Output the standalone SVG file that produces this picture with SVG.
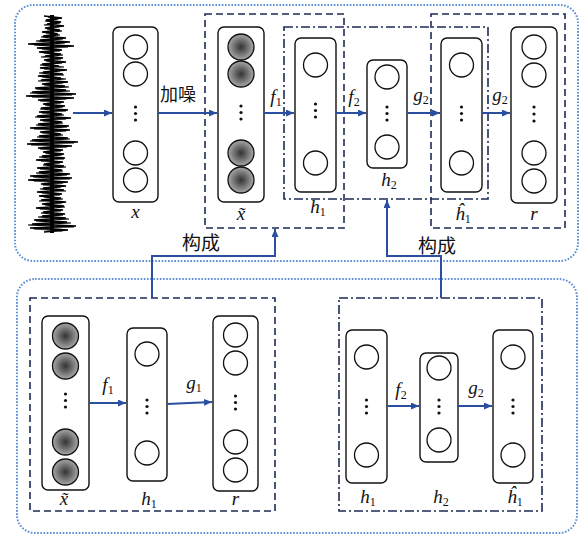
<svg xmlns="http://www.w3.org/2000/svg" width="581" height="536" viewBox="0 0 581 536">
<defs>
<radialGradient id="gshade" cx="50%" cy="50%" r="50%">
<stop offset="0%" stop-color="#333"/>
<stop offset="100%" stop-color="#a8a8a8"/>
</radialGradient>
<marker id="ah" markerUnits="userSpaceOnUse" markerWidth="9" markerHeight="7" refX="8" refY="3.5" orient="auto">
<path d="M0,0 L8,3.5 L0,7 z" fill="#2a4ea0"/>
</marker>
</defs>
<style>
.panel{fill:none;stroke:#5b8fd6;stroke-width:2;stroke-dasharray:1.6 1.6}
.dash{fill:none;stroke:#1d2b57;stroke-width:1.6;stroke-dasharray:7 4}
.dd{fill:none;stroke:#1d2b57;stroke-width:1.6;stroke-dasharray:9 3 2 3}
.box{fill:#fff;stroke:#111;stroke-width:1.4}
.c{fill:#fff;stroke:#111;stroke-width:1.3}
.g{fill:url(#gshade);stroke:#111;stroke-width:1.3}
.dot{fill:#111}
.arr{fill:none;stroke:#2a4ea0;stroke-width:2;marker-end:url(#ah)}
.lab{font-family:"Liberation Serif","DejaVu Serif",serif;font-style:italic;font-size:19px;fill:#111;text-anchor:middle}
.sub{font-style:normal;font-size:12px}
.cn{font-family:"Noto Sans CJK SC",sans-serif;font-size:18px;fill:#111}
</style>
<rect class="panel" x="15" y="5" width="563" height="256" rx="18"/>
<rect class="panel" x="17" y="279" width="560" height="254" rx="18"/>
<g id="waveform" fill="none" stroke="#000">
<line x1="52" y1="15" x2="52" y2="233" stroke-width="4"/>
<polyline stroke-width="1.6" points="44,16 62,18 46,20 61,22 47,24 64,26 45,28 60,30 42,32 58,34 43,36 66,38 40,40 70,42 28,44 74,46 37,48 62,50 39,52 61,54 45,56 63,58 44,60 66,62 42,64 59,66 40,68 67,70 43,72 63,74 38,76 61,78 41,80 68,82 42,84 65,86 35,88 66,90 32,92 76,94 26,96 74,98 38,100 64,102 43,104 65,106 41,108 68,110 39,112 62,114 37,116 71,118 40,120 62,122 38,124 69,126 30,128 70,130 40,132 61,134 39,136 68,138 32,140 78,142 27,144 72,146 38,148 63,150 43,152 64,154 42,156 65,158 36,160 63,162 44,164 64,166 37,168 62,170 39,172 70,174 30,176 72,178 28,180 68,182 41,184 66,186 43,188 64,190 37,192 62,194 39,196 61,198 41,200 66,202 42,204 64,206 36,208 63,210 43,212 65,214 42,216 66,218 34,220 67,222 32,224 76,226 30,228 68,230 44,232"/>
<polyline stroke-width="1.2" points="48,17 58,19 45,21 60,23 44,25 59,27 47,29 62,31 46,33 60,35 41,37 63,39 36,41 65,43 34,45 68,47 42,49 60,51 44,53 63,55 41,57 61,59 46,61 62,63 40,65 64,67 44,69 60,71 39,73 64,75 42,77 66,79 38,81 63,83 44,85 69,87 36,89 70,91 30,93 72,95 32,97 66,99 40,101 61,103 45,105 63,107 40,109 66,111 42,113 64,115 35,117 66,119 43,121 63,123 36,125 67,127 34,129 66,131 42,133 63,135 37,137 70,139 30,141 74,143 31,145 67,147 40,149 61,151 45,153 62,155 39,157 64,159 41,161 60,163 43,165 66,167 40,169 63,171 36,173 67,175 33,177 70,179 34,181 63,183 43,185 61,187 40,189 66,191 42,193 60,195 44,197 63,199 39,201 62,203 45,205 65,207 40,209 61,211 41,213 63,215 38,217 69,219 36,221 71,223 28,225 74,227 34,229 62,231"/>
</g>
<g id="group-x1h1"><rect class="dash" x="205" y="14" width="139" height="214"/></g>
<g id="group-h1h2"><rect class="dd" x="284" y="27" width="204" height="172"/></g>
<g id="group-h1r"><rect class="dash" x="431" y="14" width="134" height="214"/></g>
<g id="group-dae1"><rect class="dash" x="30" y="298" width="245" height="213"/></g>
<g id="group-dae2"><rect class="dd" x="339" y="298" width="203" height="213"/></g>

<g id="node-x">
<rect class="box" x="113" y="27" width="45" height="175" rx="6"/>
<circle class="c" cx="135.5" cy="47" r="12"/><circle class="c" cx="135.5" cy="74" r="12"/>
<circle class="c" cx="135.5" cy="153" r="12"/><circle class="c" cx="135.5" cy="180" r="12"/>
<circle class="dot" cx="135.5" cy="107" r="1.6"/><circle class="dot" cx="135.5" cy="113.5" r="1.6"/><circle class="dot" cx="135.5" cy="120" r="1.6"/>
<text class="lab" x="135.5" y="218">x</text>
</g>
<g id="node-xt">
<rect class="box" x="218" y="27" width="46" height="175" rx="6"/>
<circle class="g" cx="241" cy="47" r="13"/><circle class="g" cx="241" cy="74" r="13"/>
<circle class="g" cx="241" cy="153" r="13"/><circle class="g" cx="241" cy="180" r="13"/>
<circle class="dot" cx="241" cy="106" r="1.6"/><circle class="dot" cx="241" cy="112.5" r="1.6"/><circle class="dot" cx="241" cy="119" r="1.6"/>
<text class="lab" x="241" y="220">x̃</text>
</g>
<g id="node-h1">
<rect class="box" x="295" y="38" width="41" height="154" rx="6"/>
<circle class="c" cx="315.5" cy="65" r="12"/><circle class="c" cx="315.5" cy="163" r="12"/>
<circle class="dot" cx="315.5" cy="104" r="1.6"/><circle class="dot" cx="315.5" cy="110.5" r="1.6"/><circle class="dot" cx="315.5" cy="117" r="1.6"/>
<text class="lab" x="318" y="213">h<tspan class="sub" dy="3">1</tspan></text>
</g>
<g id="node-h2">
<rect class="box" x="367" y="60" width="40" height="108" rx="6"/>
<circle class="c" cx="387" cy="77" r="12"/><circle class="c" cx="387" cy="147" r="12"/>
<circle class="dot" cx="387" cy="107" r="1.6"/><circle class="dot" cx="387" cy="113.5" r="1.6"/><circle class="dot" cx="387" cy="120" r="1.6"/>
<text class="lab" x="389" y="186">h<tspan class="sub" dy="3">2</tspan></text>
</g>
<g id="node-h1hat">
<rect class="box" x="441" y="38" width="41" height="154" rx="6"/>
<circle class="c" cx="461.5" cy="65" r="12"/><circle class="c" cx="461.5" cy="163" r="12"/>
<circle class="dot" cx="461.5" cy="107" r="1.6"/><circle class="dot" cx="461.5" cy="113.5" r="1.6"/><circle class="dot" cx="461.5" cy="120" r="1.6"/>
<text class="lab" x="463" y="220">ĥ<tspan class="sub" dy="3">1</tspan></text>
</g>
<g id="node-r">
<rect class="box" x="511" y="27" width="46" height="176" rx="6"/>
<circle class="c" cx="534" cy="47" r="12"/><circle class="c" cx="534" cy="75" r="12"/>
<circle class="c" cx="534" cy="153" r="12"/><circle class="c" cx="534" cy="181" r="12"/>
<circle class="dot" cx="534" cy="107" r="1.6"/><circle class="dot" cx="534" cy="114" r="1.6"/><circle class="dot" cx="534" cy="121" r="1.6"/>
<text class="lab" x="534" y="220">r</text>
</g>

<g id="node-b-xt">
<text class="lab" x="64" y="505">x̃</text>
<rect class="box" x="42" y="316" width="47" height="174" rx="6"/>
<circle class="g" cx="65.5" cy="336" r="13"/><circle class="g" cx="65.5" cy="366" r="13"/>
<circle class="g" cx="65.5" cy="442" r="13"/><circle class="g" cx="65.5" cy="472" r="13"/>
<circle class="dot" cx="65.5" cy="394" r="1.6"/><circle class="dot" cx="65.5" cy="400.5" r="1.6"/><circle class="dot" cx="65.5" cy="407" r="1.6"/>
</g>
<g id="node-b-h1">
<rect class="box" x="127" y="328" width="40" height="153" rx="6"/>
<circle class="c" cx="147" cy="354" r="12"/><circle class="c" cx="147" cy="453" r="12"/>
<circle class="dot" cx="147" cy="400" r="1.6"/><circle class="dot" cx="147" cy="406.5" r="1.6"/><circle class="dot" cx="147" cy="413" r="1.6"/>
<text class="lab" x="149" y="505">h<tspan class="sub" dy="3">1</tspan></text>
</g>
<g id="node-b-r">
<rect class="box" x="213" y="316" width="45" height="175" rx="6"/>
<circle class="c" cx="235.5" cy="335" r="12"/><circle class="c" cx="235.5" cy="363" r="12"/>
<circle class="c" cx="235.5" cy="442" r="12"/><circle class="c" cx="235.5" cy="470" r="12"/>
<circle class="dot" cx="235.5" cy="396" r="1.6"/><circle class="dot" cx="235.5" cy="402.5" r="1.6"/><circle class="dot" cx="235.5" cy="409" r="1.6"/>
<text class="lab" x="235.5" y="505">r</text>
</g>

<g id="node-c-h1">
<rect class="box" x="346" y="330" width="41" height="153" rx="6"/>
<circle class="c" cx="366.5" cy="357" r="12"/><circle class="c" cx="366.5" cy="455" r="12"/>
<circle class="dot" cx="366.5" cy="400" r="1.6"/><circle class="dot" cx="366.5" cy="406.5" r="1.6"/><circle class="dot" cx="366.5" cy="413" r="1.6"/>
<text class="lab" x="368" y="503">h<tspan class="sub" dy="3">1</tspan></text>
</g>
<g id="node-c-h2">
<rect class="box" x="420" y="353" width="38" height="109" rx="6"/>
<circle class="c" cx="439" cy="368" r="12"/><circle class="c" cx="439" cy="440" r="12"/>
<circle class="dot" cx="439" cy="400" r="1.6"/><circle class="dot" cx="439" cy="406.5" r="1.6"/><circle class="dot" cx="439" cy="413" r="1.6"/>
<text class="lab" x="441" y="503">h<tspan class="sub" dy="3">2</tspan></text>
</g>
<g id="node-c-h1hat">
<rect class="box" x="493" y="330" width="40" height="153" rx="6"/>
<circle class="c" cx="513" cy="357" r="12"/><circle class="c" cx="513" cy="455" r="12"/>
<circle class="dot" cx="513" cy="400" r="1.6"/><circle class="dot" cx="513" cy="406.5" r="1.6"/><circle class="dot" cx="513" cy="413" r="1.6"/>
<text class="lab" x="515" y="503">ĥ<tspan class="sub" dy="3">1</tspan></text>
</g>

<g id="connectors">
<path class="arr" d="M73 113 H112"/>
<path class="arr" d="M158 113 H217"/>
<path class="arr" d="M264 113 H294"/>
<path class="arr" d="M336 113 H366"/>
<path class="arr" d="M407 113 H440"/>
<path class="arr" d="M482 113 H510"/>
<path class="arr" d="M89 403 H126"/>
<path class="arr" d="M167 404 L212 402"/>
<path class="arr" d="M387 406 H419"/>
<path class="arr" d="M458 406 H492"/>
<path class="arr" d="M152 298 V256 H275 V229"/>
<path class="arr" d="M441 298 V256 H387 V200"/>
</g>
<g id="labels">
<text class="cn" x="160" y="101">加噪</text>
<text class="lab" x="276" y="103">f<tspan class="sub" dy="3">1</tspan></text>
<text class="lab" x="354" y="103">f<tspan class="sub" dy="3">2</tspan></text>
<text class="lab" x="421" y="101">g<tspan class="sub" dy="3">2</tspan></text>
<text class="lab" x="500" y="101">g<tspan class="sub" dy="3">2</tspan></text>
<text class="cn" x="182" y="250" style="font-size:19px">构成</text>
<text class="cn" x="418" y="253" style="font-size:19px">构成</text>
<text class="lab" x="108" y="391">f<tspan class="sub" dy="3">1</tspan></text>
<text class="lab" x="194" y="389">g<tspan class="sub" dy="3">1</tspan></text>
<text class="lab" x="401" y="396">f<tspan class="sub" dy="3">2</tspan></text>
<text class="lab" x="476" y="394">g<tspan class="sub" dy="3">2</tspan></text>
</g>
</svg>
